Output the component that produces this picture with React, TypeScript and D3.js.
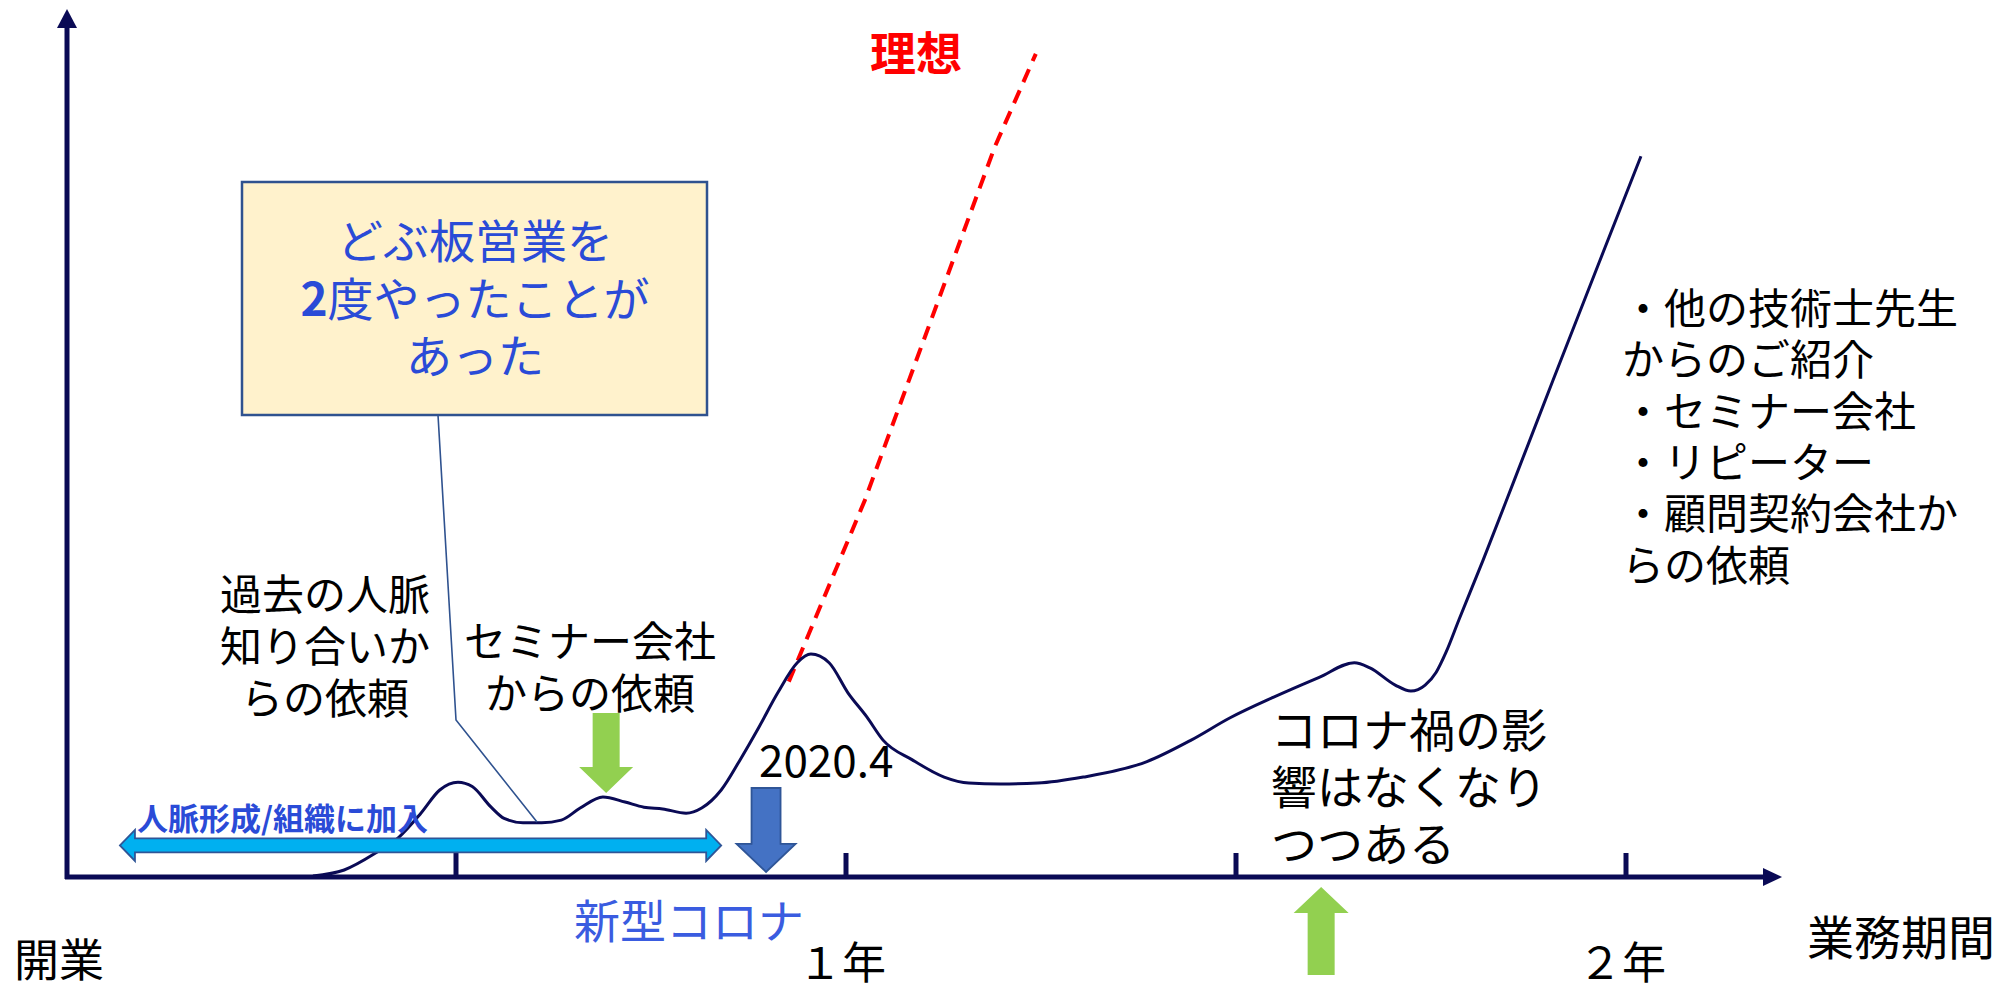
import React, { useEffect } from "react";
import * as d3 from "d3";

// ---- data (x in months since opening, y in arbitrary "business level") ----
const curveMonths = [3.8, 4.28, 4.77, 5.12, 5.46, 5.75, 6.03, 6.25, 6.54, 6.74, 7.03, 7.32, 7.62, 7.91, 8.26, 8.6, 8.89, 9.18, 9.54, 9.78, 10.08, 10.37, 10.66, 10.95, 11.25, 11.46, 11.74, 12.03, 12.32, 12.57, 13.02, 13.51, 13.89, 14.37, 14.95, 15.65, 16.63, 17.31, 17.91, 18.58, 19.28, 19.82, 20.06, 20.45, 20.69, 20.91, 21.08, 21.23, 21.43, 21.8, 22.28, 22.88, 23.6, 24.23];
const curveLevels = [0, 0.7, 2.7, 4.5, 7.3, 10.0, 10.9, 10.4, 8.0, 6.7, 6.2, 6.2, 6.5, 7.9, 9.2, 8.6, 8.0, 7.8, 7.3, 7.9, 10.0, 13.5, 17.3, 21.3, 24.8, 25.8, 24.8, 21.3, 18.5, 15.8, 13.5, 11.5, 10.8, 10.7, 10.8, 11.5, 13.3, 15.8, 18.4, 20.8, 23.1, 24.8, 24.2, 22.2, 21.5, 22.2, 23.7, 26.0, 29.8, 36.7, 46.0, 57.7, 71.6, 83.7];

const idealMonths = [11.12, 12.29, 14.29, 14.92];
const idealLevels = [22.6, 43.7, 84.8, 95.6];

const tickMonths = [6, 12, 18, 24];
const tickLabelMonths = [12, 24];
const tickLabels = ["１年", "２年"];

// annotation arrows: [month, fromLevel, toLevel]
const greenDownArrow = [8.31, 18.95, 9.65];
const covidArrow = [10.77, 10.23, 0.47];
const greenUpArrow = [19.31, -11.51, -1.28];
const networkSpan = [0.83, 10.08, 3.55];

const boxLines = ["どぶ板営業を", "2度やったことが", "あった"];
const pastLines = ["過去の人脈", "知り合いか", "らの依頼"];
const seminarLines = ["セミナー会社", "からの依頼"];
const sourceLines = ["・他の技術士先生", "からのご紹介", "・セミナー会社", "・リピーター", "・顧問契約会社か", "らの依頼"];
const coronaLines = ["コロナ禍の影", "響はなくなり", "つつある"];

const W = 2003;
const H = 993;
const NAVY = "#0a0a55";
const BLUE_TXT = "#2a4bd7";
const FONT = "'Noto Sans CJK JP', 'Noto Sans', sans-serif";

const x = d3.scaleLinear().domain([0, 24]).range([66, 1626]);
const y = d3.scaleLinear().domain([0, 100]).range([876, 16]);

function blockArrowV(cx: number, y0: number, y1: number, shaft: number, head: number, headLen: number) {
  const dir = y1 > y0 ? 1 : -1;
  const hb = y1 - dir * headLen;
  const p = d3.path();
  p.moveTo(cx - shaft / 2, y0);
  p.lineTo(cx + shaft / 2, y0);
  p.lineTo(cx + shaft / 2, hb);
  p.lineTo(cx + head / 2, hb);
  p.lineTo(cx, y1);
  p.lineTo(cx - head / 2, hb);
  p.lineTo(cx - shaft / 2, hb);
  p.closePath();
  return p.toString();
}

function doubleArrowH(x0: number, x1: number, cy: number, shaft: number, head: number, headLen: number) {
  const p = d3.path();
  p.moveTo(x0, cy);
  p.lineTo(x0 + headLen, cy - head / 2);
  p.lineTo(x0 + headLen, cy - shaft / 2);
  p.lineTo(x1 - headLen, cy - shaft / 2);
  p.lineTo(x1 - headLen, cy - head / 2);
  p.lineTo(x1, cy);
  p.lineTo(x1 - headLen, cy + head / 2);
  p.lineTo(x1 - headLen, cy + shaft / 2);
  p.lineTo(x0 + headLen, cy + shaft / 2);
  p.lineTo(x0 + headLen, cy + head / 2);
  p.closePath();
  return p.toString();
}

function MultiLine(props: {
  lines: string[];
  x: number;
  y: number;
  step: number;
  size: number;
  anchor?: string;
  fill?: string;
  boldDigit?: boolean;
}) {
  const { lines, x: tx, y: ty, step, size, anchor = "start", fill = "#000", boldDigit = false } = props;
  return (
    <text x={tx} y={ty} textAnchor={anchor as any} dominantBaseline="central" fontSize={size} fill={fill}>
      {lines.map((t, i) => (
        <tspan key={i} x={tx} y={ty + i * step}>
          {boldDigit && /^\d/.test(t) ? (
            <>
              <tspan fontWeight="bold">{t[0]}</tspan>
              {t.slice(1)}
            </>
          ) : (
            t
          )}
        </tspan>
      ))}
    </text>
  );
}

export default function App() {
  useEffect(() => {
    document.body.style.margin = "0";
  }, []);

  const curvePts = curveMonths.map((m, i) => [m, curveLevels[i]] as [number, number]);
  const idealPts = idealMonths.map((m, i) => [m, idealLevels[i]] as [number, number]);
  const line = d3
    .line<[number, number]>()
    .x((d) => x(d[0]))
    .y((d) => y(d[1]))
    .curve(d3.curveMonotoneX);
  const straight = d3
    .line<[number, number]>()
    .x((d) => x(d[0]))
    .y((d) => y(d[1]));

  const axisY = y(0) + 1;

  return (
    <div style={{ position: "absolute", left: 0, top: 0 }}>
      <svg width={W} height={H} style={{ display: "block", fontFamily: FONT }}>
        <rect width={W} height={H} fill="#ffffff" />

        {/* y axis */}
        <line x1={x(0) + 1} x2={x(0) + 1} y1={axisY + 2} y2={26} stroke={NAVY} strokeWidth={5} />
        <path d={`M${x(0) + 1},9 L${x(0) + 11},28 L${x(0) - 9},28 Z`} fill={NAVY} />

        {/* x axis */}
        <line x1={x(0) - 1} x2={1765} y1={axisY} y2={axisY} stroke={NAVY} strokeWidth={5} />
        <path d={`M1782,${axisY} L1763,${axisY - 9} L1763,${axisY + 9} Z`} fill={NAVY} />
        {tickMonths.map((m) => (
          <line key={m} x1={x(m)} x2={x(m)} y1={axisY} y2={axisY - 24} stroke={NAVY} strokeWidth={5} />
        ))}

        {/* ideal dashed */}
        <path d={straight(idealPts) || ""} fill="none" stroke="#ff0000" strokeWidth={4} strokeDasharray="14 9" />

        {/* main curve */}
        <path d={line(curvePts) || ""} fill="none" stroke={NAVY} strokeWidth={3} />

        {/* leader line */}
        <polyline points="438,415 456,720 537,822" fill="none" stroke="#2f528f" strokeWidth={1.6} />

        {/* annotation box */}
        <rect x={242} y={182} width={465} height={233} fill="#fff2cc" stroke="#2f528f" strokeWidth={2.5} />
        <MultiLine lines={boxLines} x={475} y={238} step={57.5} size={46} anchor="middle" fill={BLUE_TXT} boldDigit />

        {/* 理想 */}
        <text x={916} y={50} textAnchor="middle" dominantBaseline="central" fontSize={46} fontWeight="bold" fill="#ff0000">
          理想
        </text>

        {/* arrows */}
        <path
          d={doubleArrowH(x(networkSpan[0]), x(networkSpan[1]), y(networkSpan[2]), 14, 31, 15)}
          fill="#00b0f0"
          stroke="#2f5597"
          strokeWidth={1.8}
        />
        <path d={blockArrowV(x(greenDownArrow[0]), y(greenDownArrow[1]), y(greenDownArrow[2]), 27, 54, 26)} fill="#92d050" />
        <path
          d={blockArrowV(x(covidArrow[0]), y(covidArrow[1]), y(covidArrow[2]), 29, 59, 28)}
          fill="#4472c4"
          stroke="#2f5597"
          strokeWidth={1.8}
        />
        <path d={blockArrowV(x(greenUpArrow[0]), y(greenUpArrow[1]), y(greenUpArrow[2]), 27, 55, 26)} fill="#92d050" />

        {/* text annotations */}
        <text x={137} y={816} dominantBaseline="central" fontSize={31} fontWeight="bold" fill={BLUE_TXT}>
          人脈形成/組織に加入
        </text>
        <MultiLine lines={pastLines} x={325} y={591} step={52} size={42} anchor="middle" />
        <MultiLine lines={seminarLines} x={590} y={638} step={52} size={42} anchor="middle" />
        <text x={759} y={777} fontSize={44} fill="#000">
          2020.4
        </text>
        <MultiLine lines={sourceLines} x={1622} y={305} step={51.3} size={42} />
        <MultiLine lines={coronaLines} x={1271} y={727} step={57} size={46} />

        <text x={574} y={918} dominantBaseline="central" fontSize={46} fill="#3a5ce0">
          新型コロナ
        </text>
        <text x={14} y={957} dominantBaseline="central" fontSize={45} fill="#000">
          開業
        </text>
        {tickLabelMonths.map((m, i) => (
          <text key={m} x={x(m) - 4} y={960} textAnchor="middle" dominantBaseline="central" fontSize={44} fill="#000">
            {tickLabels[i]}
          </text>
        ))}
        <text x={1807} y={934} dominantBaseline="central" fontSize={47} fill="#000">
          業務期間
        </text>
      </svg>
    </div>
  );
}
